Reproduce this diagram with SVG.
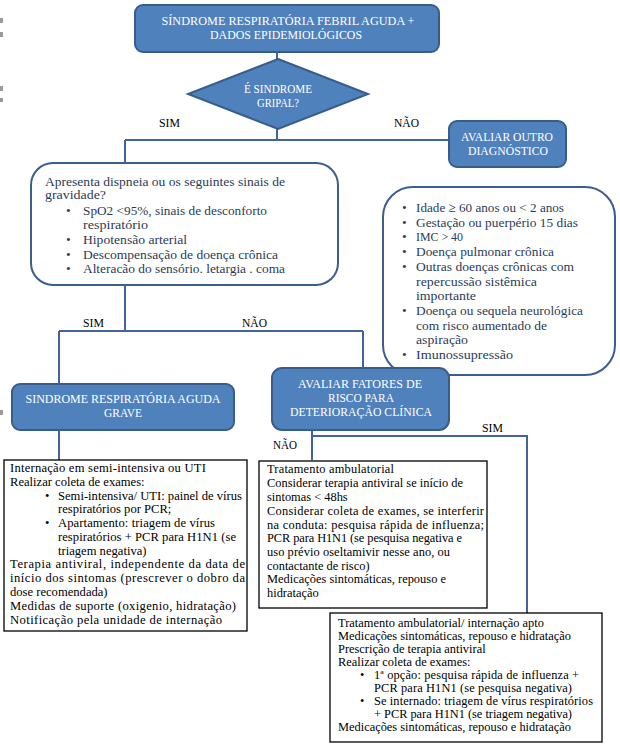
<svg xmlns="http://www.w3.org/2000/svg" width="620" height="751" viewBox="0 0 620 751">
<style>
.blue{fill:#4F81BD;stroke:#385D8A;stroke-width:2}
.wt{fill:#FFFFFF;font-family:"Liberation Serif",serif;font-size:13.5px;text-anchor:middle}
.wd{fill:#FFFFFF;font-family:"Liberation Serif",serif;font-size:12.8px;text-anchor:middle}
.lbl{fill:#000000;font-family:"Liberation Serif",serif;font-size:12.5px}
.rnd{fill:#FFFFFF;stroke:#3B5E8C;stroke-width:2}
.nt{fill:#2B3B58;font-family:"Liberation Serif",serif;font-size:13.5px}
.nt1{fill:#2B3B58;font-family:"Liberation Serif",serif;font-size:12.6px}
.box{fill:#FFFFFF;stroke:#000000;stroke-width:1.3}
.bt{fill:#000000;font-family:"Liberation Serif",serif;font-size:12.4px}
.bl{fill:#000000;font-family:"Liberation Serif",serif;font-size:12.6px}
.conn{fill:none;stroke:#41659A;stroke-width:2}
.mark{fill:#9A9A9A}
</style>
<rect width="620" height="751" fill="#FFFFFF"/>
<g id="marks">
<rect class="mark" x="0" y="18" width="3" height="5"/>
<rect class="mark" x="0" y="32" width="3" height="5"/>
<rect class="mark" x="0" y="86" width="3" height="5"/>
<rect class="mark" x="0" y="98" width="3" height="4"/>
<rect class="mark" x="0" y="410" width="3" height="5"/>
</g>
<g id="connectors">
<path class="conn" d="M277,52 V59"/>
<path class="conn" d="M277,129 V140"/>
<path class="conn" d="M125,140 H449"/>
<path class="conn" d="M125,140 V163"/>
<path class="conn" d="M125,285 V331"/>
<path class="conn" d="M59,331 H363"/>
<path class="conn" d="M59,331 V384"/>
<path class="conn" d="M363,331 V368"/>
<path class="conn" d="M59,430 V460"/>
<path class="conn" d="M312,430 V460"/>
<path class="conn" d="M312,436 H527 V613"/>
</g>
<g id="labels">
<text class="lbl" x="159" y="127" textLength="21" lengthAdjust="spacingAndGlyphs">SIM</text>
<text class="lbl" x="394" y="127" textLength="25" lengthAdjust="spacingAndGlyphs">NÃO</text>
<text class="lbl" x="83" y="327" textLength="21" lengthAdjust="spacingAndGlyphs">SIM</text>
<text class="lbl" x="242" y="327" textLength="25" lengthAdjust="spacingAndGlyphs">NÃO</text>
<text class="lbl" x="482" y="432" textLength="21" lengthAdjust="spacingAndGlyphs">SIM</text>
<text class="lbl" x="273" y="449" textLength="24" lengthAdjust="spacingAndGlyphs">NÃO</text>
</g>
<g id="n-start">
<rect class="blue" x="135" y="5" width="304" height="47" rx="8"/>
<text class="wt" x="288" y="25" textLength="253" lengthAdjust="spacingAndGlyphs">SÍNDROME RESPIRATÓRIA FEBRIL AGUDA +</text>
<text class="wt" x="286" y="39" textLength="152" lengthAdjust="spacingAndGlyphs">DADOS EPIDEMIOLÓGICOS</text>
</g>
<g id="n-gripal">
<polygon class="blue" points="278,59 368,94 278,129 188,94"/>
<text class="wd" x="278" y="93" textLength="68" lengthAdjust="spacingAndGlyphs">É SINDROME</text>
<text class="wd" x="278" y="107" textLength="42" lengthAdjust="spacingAndGlyphs">GRIPAL?</text>
</g>
<g id="n-outro">
<rect class="blue" x="449" y="121" width="117" height="46" rx="8"/>
<text class="wt" x="507" y="141" textLength="92" lengthAdjust="spacingAndGlyphs">AVALIAR OUTRO</text>
<text class="wt" x="508" y="155" textLength="80" lengthAdjust="spacingAndGlyphs">DIAGNÓSTICO</text>
</g>
<g id="n-gravidade">
<rect class="rnd" x="31" y="163" width="307" height="122" rx="22"/>
<text class="nt1" x="45" y="186" textLength="240" lengthAdjust="spacingAndGlyphs">Apresenta dispneia ou os seguintes sinais de</text>
<text class="nt1" x="45" y="199" textLength="61" lengthAdjust="spacingAndGlyphs">gravidade?</text>
<text class="nt" x="66" y="215">•</text><text class="nt" x="83" y="215" textLength="184" lengthAdjust="spacingAndGlyphs">SpO2 &lt;95%, sinais de desconforto</text>
<text class="nt" x="83" y="229" textLength="65" lengthAdjust="spacingAndGlyphs">respiratório</text>
<text class="nt" x="66" y="244">•</text><text class="nt" x="83" y="244" textLength="104" lengthAdjust="spacingAndGlyphs">Hipotensão arterial</text>
<text class="nt" x="66" y="259">•</text><text class="nt" x="83" y="259" textLength="195" lengthAdjust="spacingAndGlyphs">Descompensação de doença crônica</text>
<text class="nt" x="66" y="273">•</text><text class="nt" x="83" y="273" textLength="202" lengthAdjust="spacingAndGlyphs">Alteracão do sensório. letargia . coma</text>
</g>
<g id="n-fatores-lista">
<rect class="rnd" x="383" y="187" width="232" height="188" rx="30"/>
<text class="nt" x="402" y="212">•</text><text class="nt" x="416" y="212" textLength="148" lengthAdjust="spacingAndGlyphs">Idade ≥ 60 anos ou &lt; 2 anos</text>
<text class="nt" x="402" y="227">•</text><text class="nt" x="416" y="227" textLength="162" lengthAdjust="spacingAndGlyphs">Gestação ou puerpério 15 dias</text>
<text class="nt" x="402" y="241">•</text><text class="nt" x="416" y="241" textLength="47" lengthAdjust="spacingAndGlyphs">IMC &gt; 40</text>
<text class="nt" x="402" y="256">•</text><text class="nt" x="416" y="256" textLength="138" lengthAdjust="spacingAndGlyphs">Doença pulmonar crônica</text>
<text class="nt" x="402" y="271">•</text><text class="nt" x="416" y="271" textLength="158" lengthAdjust="spacingAndGlyphs">Outras doenças crônicas com</text>
<text class="nt" x="416" y="286" textLength="121" lengthAdjust="spacingAndGlyphs">repercussão sistêmica</text>
<text class="nt" x="416" y="300" textLength="60" lengthAdjust="spacingAndGlyphs">importante</text>
<text class="nt" x="402" y="315">•</text><text class="nt" x="416" y="315" textLength="167" lengthAdjust="spacingAndGlyphs">Doença ou sequela neurológica</text>
<text class="nt" x="416" y="330" textLength="131" lengthAdjust="spacingAndGlyphs">com risco aumentado de</text>
<text class="nt" x="416" y="344" textLength="52" lengthAdjust="spacingAndGlyphs">aspiração</text>
<text class="nt" x="402" y="359">•</text><text class="nt" x="416" y="359" textLength="97" lengthAdjust="spacingAndGlyphs">Imunossupressão</text>
</g>
<g id="n-srag">
<rect class="blue" x="12" y="384" width="222" height="46" rx="8"/>
<text class="wt" x="123" y="403" textLength="195" lengthAdjust="spacingAndGlyphs">SINDROME RESPIRATÓRIA AGUDA</text>
<text class="wt" x="123" y="417" textLength="38" lengthAdjust="spacingAndGlyphs">GRAVE</text>
</g>
<g id="n-fatores">
<rect class="blue" x="272" y="368" width="177" height="62" rx="10"/>
<text class="wt" x="360" y="388" textLength="124" lengthAdjust="spacingAndGlyphs">AVALIAR FATORES DE</text>
<text class="wt" x="361" y="402" textLength="66" lengthAdjust="spacingAndGlyphs">RISCO PARA</text>
<text class="wt" x="361" y="416" textLength="142" lengthAdjust="spacingAndGlyphs">DETERIORAÇÃO CLÍNICA</text>
</g>
<g id="n-srag-conduta">
<rect class="box" x="4" y="460" width="243" height="171"/>
<text class="bl" x="10" y="472" textLength="196" lengthAdjust="spacing">Internação em semi-intensiva ou UTI</text>
<text class="bl" x="10" y="486">Realizar coleta de exames:</text>
<text class="bl" x="45" y="500">•</text><text class="bl" x="58" y="500" textLength="184" lengthAdjust="spacing">Semi-intensiva/ UTI: painel de vírus</text>
<text class="bl" x="58" y="513">respiratórios por PCR;</text>
<text class="bl" x="45" y="527">•</text><text class="bl" x="58" y="527" textLength="157" lengthAdjust="spacing">Apartamento: triagem de vírus</text>
<text class="bl" x="58" y="541" textLength="178" lengthAdjust="spacing">respiratórios + PCR para H1N1 (se</text>
<text class="bl" x="58" y="555">triagem negativa)</text>
<text class="bl" x="10" y="568" textLength="235" lengthAdjust="spacing">Terapia antiviral, independente da data de</text>
<text class="bl" x="10" y="582" textLength="235" lengthAdjust="spacing">início dos sintomas (prescrever o dobro da</text>
<text class="bl" x="10" y="596">dose recomendada)</text>
<text class="bl" x="10" y="610" textLength="226" lengthAdjust="spacing">Medidas de suporte (oxigenio, hidratação)</text>
<text class="bl" x="10" y="624" textLength="212" lengthAdjust="spacing">Notificação pela unidade de internação</text>
</g>
<g id="n-ambulatorial">
<rect class="box" x="259" y="461" width="228" height="147"/>
<text class="bt" x="267" y="473" textLength="127" lengthAdjust="spacing">Tratamento ambulatorial</text>
<text class="bt" x="267" y="487" textLength="196" lengthAdjust="spacing">Considerar terapia antiviral se início de</text>
<text class="bt" x="267" y="501">sintomas &lt; 48hs</text>
<text class="bt" x="267" y="515" textLength="217" lengthAdjust="spacing">Considerar coleta de exames, se interferir</text>
<text class="bt" x="267" y="529" textLength="217" lengthAdjust="spacing">na conduta: pesquisa rápida de influenza;</text>
<text class="bt" x="267" y="542" textLength="195" lengthAdjust="spacing">PCR para H1N1 (se pesquisa negativa e</text>
<text class="bt" x="267" y="556" textLength="183" lengthAdjust="spacing">uso prévio oseltamivir nesse ano, ou</text>
<text class="bt" x="267" y="570">contactante de risco)</text>
<text class="bt" x="267" y="583" textLength="179" lengthAdjust="spacing">Medicações sintomáticas, repouso e</text>
<text class="bt" x="267" y="597">hidratação</text>
</g>
<g id="n-internacao">
<rect class="box" x="330" y="613" width="272" height="129"/>
<text class="bt" x="338" y="627" textLength="206" lengthAdjust="spacing">Tratamento ambulatorial/ internação apto</text>
<text class="bt" x="338" y="640" textLength="233" lengthAdjust="spacing">Medicações sintomáticas, repouso e hidratação</text>
<text class="bt" x="338" y="653">Prescrição de terapia antiviral</text>
<text class="bt" x="338" y="666">Realizar coleta de exames:</text>
<text class="bt" x="360" y="679">•</text><text class="bt" x="374" y="679" textLength="205" lengthAdjust="spacing">1ª opção: pesquisa rápida de influenza +</text>
<text class="bt" x="374" y="692" textLength="198" lengthAdjust="spacing">PCR para H1N1 (se pesquisa negativa)</text>
<text class="bt" x="360" y="705">•</text><text class="bt" x="374" y="705" textLength="219" lengthAdjust="spacing">Se internado: triagem de vírus respiratórios</text>
<text class="bt" x="374" y="718" textLength="198" lengthAdjust="spacing">+ PCR para H1N1 (se triagem negativa)</text>
<text class="bt" x="338" y="731" textLength="233" lengthAdjust="spacing">Medicações sintomáticas, repouso e hidratação</text>
</g>
</svg>
